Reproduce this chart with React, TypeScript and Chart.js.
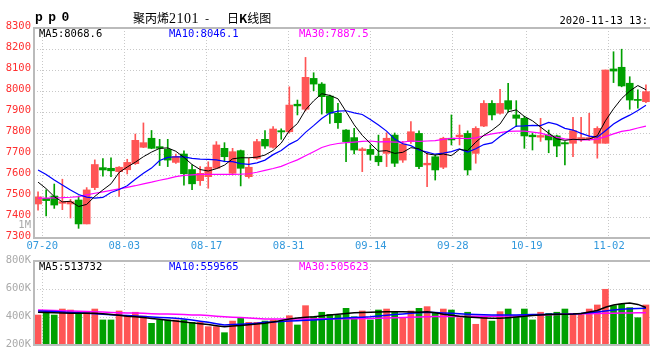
import React, { useEffect, useRef } from 'react';
import { Chart, registerables } from 'chart.js';

Chart.register(...registerables);

// ---- data ----
const dates = [
  '07-17', '07-20', '07-21', '07-22', '07-23', '07-24', '07-27', '07-28', '07-29', '07-30', '07-31',
  '08-03', '08-04', '08-05', '08-06', '08-07', '08-10', '08-11', '08-12', '08-13', '08-14',
  '08-17', '08-18', '08-19', '08-20', '08-21', '08-24', '08-25', '08-26', '08-27', '08-28',
  '08-31', '09-01', '09-02', '09-03', '09-04', '09-07', '09-08', '09-09', '09-10', '09-11',
  '09-14', '09-15', '09-16', '09-17', '09-18', '09-21', '09-22', '09-23', '09-24', '09-25',
  '09-28', '09-29', '09-30', '10-09', '10-12', '10-13', '10-14', '10-15', '10-16',
  '10-19', '10-20', '10-21', '10-22', '10-23', '10-26', '10-27', '10-28', '10-29', '10-30',
  '11-02', '11-03', '11-04', '11-05', '11-06', '11-09',
];

const xTickLabels = ['07-20', '08-03', '08-17', '08-31', '09-14', '09-28', '10-19', '11-02'];
const priceTicks = [7300, 7400, 7500, 7600, 7700, 7800, 7900, 8000, 8100, 8200, 8300];
const volTicks = [200000, 400000, 600000, 800000];
const volTickLabels = ['200K', '400K', '600K', '800K'];

const open = [
  7462, 7489, 7500, 7465, 7462, 7481, 7367, 7540, 7635, 7632,
  7616, 7625, 7654, 7732, 7775, 7735, 7722, 7660, 7700, 7626,
  7573, 7592, 7632, 7727, 7608, 7716, 7592, 7679, 7770, 7732,
  7811, 7806, 7937, 7913, 8060, 8033, 7976, 7894, 7814, 7778,
  7716, 7722, 7690, 7703, 7790, 7671, 7759, 7798, 7648, 7687,
  7637, 7775, 7782, 7798, 7703, 7833, 7941, 7894, 7954, 7886,
  7870, 7790, 7780, 7790, 7786, 7754, 7751, 7770, 7772, 7751,
  7751, 8105, 8113, 8037, 7960, 7949,
];
const high = [
  7520, 7529, 7557, 7580, 7484, 7500, 7540, 7672, 7678, 7682,
  7640, 7675, 7795, 7848, 7812, 7770, 7770, 7700, 7715, 7648,
  7640, 7663, 7759, 7754, 7727, 7719, 7680, 7770, 7811, 7830,
  7820, 8020, 7957, 8160, 8087, 8040, 7980, 7941, 7816, 7822,
  7730, 7743, 7790, 7801, 7800, 7760, 7854, 7810, 7703, 7695,
  7780, 7886, 7838, 7810, 7830, 7954, 7954, 8008, 8037, 7954,
  7880, 7800, 7870, 7814, 7790, 7759, 7875, 7875, 7894, 7830,
  8100, 8187, 8199, 8068, 8005, 8029,
];
const low = [
  7433, 7405, 7441, 7435, 7395, 7346, 7367, 7530, 7595, 7592,
  7498, 7605, 7650, 7730, 7725, 7645, 7640, 7655, 7552, 7530,
  7550, 7537, 7630, 7663, 7600, 7548, 7585, 7675, 7727, 7728,
  7770, 7800, 7886, 7905, 8001, 7890, 7846, 7822, 7663, 7700,
  7616, 7671, 7645, 7640, 7640, 7660, 7750, 7630, 7544, 7576,
  7630, 7743, 7743, 7600, 7656, 7830, 7862, 7890, 7900, 7830,
  7727, 7719, 7760, 7706, 7687, 7648, 7687, 7760, 7765, 7680,
  7751, 8040, 8020, 7913, 7918, 7945,
];
const close = [
  7496, 7478, 7457, 7473, 7473, 7367, 7529, 7650, 7624, 7620,
  7637, 7660, 7765, 7754, 7727, 7727, 7671, 7688, 7606, 7558,
  7608, 7637, 7743, 7687, 7711, 7632, 7637, 7759, 7738, 7819,
  7805, 7933, 7929, 8065, 8033, 7973, 7894, 7849, 7759, 7719,
  7724, 7698, 7663, 7775, 7656, 7748, 7806, 7640, 7656, 7624,
  7775, 7767, 7790, 7624, 7822, 7941, 7886, 7941, 7913, 7870,
  7786, 7782, 7788, 7767, 7738, 7748, 7811, 7778, 7778, 7822,
  8100, 8095, 8024, 7957, 7955, 7997,
];

const ma5 = [
  7566, 7535, 7497, 7472, 7475, 7450, 7460, 7498, 7529, 7558,
  7612, 7638, 7661, 7687, 7709, 7727, 7729, 7713, 7684, 7650,
  7626, 7619, 7630, 7647, 7677, 7682, 7682, 7685, 7695, 7717,
  7752, 7811, 7845, 7910, 7953, 7987, 7979, 7963, 7902, 7839,
  7789, 7750, 7713, 7716, 7703, 7708, 7730, 7725, 7701, 7695,
  7700, 7692, 7722, 7716, 7756, 7789, 7813, 7843, 7901, 7910,
  7879, 7858, 7828, 7799, 7772, 7765, 7770, 7768, 7771, 7787,
  7858, 7915, 7964, 8000, 8026, 8006,
];
const ma10 = [
  7624, 7602, 7576, 7552, 7529, 7507, 7495, 7490, 7493, 7517,
  7531, 7549, 7580, 7608, 7633, 7669, 7684, 7687, 7686, 7679,
  7676, 7674, 7672, 7665, 7664, 7654, 7651, 7658, 7671, 7697,
  7717, 7746, 7765, 7803, 7835, 7869, 7895, 7904, 7906, 7896,
  7888, 7864, 7838, 7809, 7771, 7749, 7740, 7719, 7709, 7699,
  7704, 7711, 7724, 7709, 7725, 7745, 7753, 7783, 7808, 7833,
  7834, 7836, 7835, 7850, 7841, 7822, 7814, 7798, 7785, 7780,
  7811, 7843, 7866, 7885, 7907, 7932,
];
const ma30 = [
  7490, 7490, 7491, 7492, 7494, 7497, 7505, 7513, 7520, 7527,
  7534, 7541, 7549, 7558, 7566, 7575, 7583, 7592, 7598, 7601,
  7603, 7603, 7603, 7603, 7603, 7604, 7606, 7613, 7622, 7631,
  7641, 7657, 7672, 7692, 7711, 7731, 7743, 7750, 7754, 7757,
  7760, 7762, 7758, 7759, 7757, 7757, 7762, 7760, 7762, 7764,
  7770, 7774, 7775, 7773, 7777, 7787, 7796, 7802, 7808, 7809,
  7809, 7804, 7799, 7789, 7779, 7772, 7769, 7767, 7767, 7771,
  7783, 7796, 7808, 7814, 7824, 7833,
];

const volume = [
  414000, 434000, 414000, 457000, 450000, 426000, 434000, 457000, 379000, 379000,
  443000, 407000, 434000, 407000, 355000, 379000, 379000, 379000, 379000, 362000,
  362000, 331000, 331000, 288000, 371000, 391000, 362000, 362000, 371000, 379000,
  362000, 409000, 343000, 481000, 402000, 434000, 419000, 414000, 462000, 402000,
  443000, 379000, 450000, 457000, 438000, 395000, 443000, 462000, 474000, 431000,
  457000, 450000, 395000, 434000, 348000, 402000, 371000, 438000, 457000, 402000,
  457000, 379000, 434000, 426000, 434000, 457000, 426000, 419000, 457000, 486000,
  598000, 481000, 491000, 467000, 395000, 486000,
];
const volMa5 = [
  434000, 432000, 430000, 428000, 427000, 426000, 426000, 426000, 424000, 418000,
  412000, 406000, 402000, 396000, 390000, 384000, 377000, 371000, 365000, 358000,
  352000, 346000, 338000, 331000, 336000, 340000, 345000, 350000, 355000, 365000,
  375000, 385000, 393000, 398000, 402000, 408000, 414000, 420000, 425000, 430000,
  432000, 434000, 436000, 437000, 438000, 437000, 436000, 434000, 438000, 430000,
  420000, 412000, 405000, 400000, 396000, 393000, 391000, 391000, 395000, 400000,
  405000, 410000, 414000, 417000, 419000, 419000, 421000, 425000, 436000, 446000,
  470000, 485000, 495000, 500000, 490000, 468000,
];
const volMa10 = [
  443000, 441000, 439000, 436000, 433000, 430000, 427000, 424000, 419000, 416000,
  413000, 410000, 407000, 403000, 400000, 397000, 394000, 391000, 385000, 378000,
  370000, 362000, 352000, 343000, 346000, 349000, 352000, 356000, 362000, 365000,
  368000, 371000, 374000, 376000, 379000, 383000, 386000, 390000, 393000, 396000,
  399000, 402000, 407000, 412000, 418000, 422000, 426000, 430000, 434000, 432000,
  429000, 426000, 423000, 420000, 418000, 416000, 415000, 414000, 414000, 415000,
  416000, 417000, 418000, 419000, 419000, 419000, 421000, 425000, 430000, 436000,
  443000, 450000, 455000, 459000, 461000, 462000,
];
const volMa30 = [
  450000, 448000, 446000, 444000, 443000, 441000, 439000, 437000, 435000, 433000,
  431000, 429000, 428000, 426000, 424000, 422000, 421000, 419000, 417000, 415000,
  414000, 410000, 406000, 402000, 399000, 396000, 392000, 389000, 386000, 386000,
  386000, 386000, 386000, 386000, 386000, 387000, 387000, 387000, 388000, 388000,
  389000, 390000, 391000, 393000, 395000, 397000, 399000, 400000, 402000, 403000,
  403000, 404000, 404000, 405000, 405000, 405000, 406000, 406000, 407000, 408000,
  410000, 412000, 414000, 416000, 418000, 420000, 422000, 423000, 424000, 425000,
  426000, 427000, 428000, 429000, 430000, 431000,
];

// ---- styles ----
const UP = '#ff5555';
const DOWN = '#00a000';
const MONO = '"DejaVu Sans Mono", monospace';
const GRID = '#c8c8c8';

const plotBorder = {
  id: 'plotBorder',
  afterDatasetsDraw(chart: any) {
    const { ctx, chartArea: a } = chart;
    ctx.save();
    ctx.strokeStyle = '#bbbbbb';
    ctx.lineWidth = 2;
    ctx.beginPath();
    ctx.moveTo(a.right, a.top);
    ctx.lineTo(a.left, a.top);
    ctx.lineTo(a.left, a.bottom);
    ctx.lineTo(a.right, a.bottom);
    ctx.stroke();
    ctx.restore();
  },
};

function lineDs(label: string, data: number[], color: string, width: number) {
  return {
    type: 'line' as const,
    label,
    data,
    borderColor: color,
    borderWidth: width,
    pointRadius: 0,
    tension: 0,
    fill: false,
    order: 0,
  };
}

function dateAxis(showLabels: boolean, height: number) {
  return {
    type: 'category' as const,
    position: 'bottom' as const,
    offset: false,
    grid: { offset: false, color: GRID, drawTicks: false },
    border: { display: false, dash: [1, 2] },
    ticks: {
      display: showLabels,
      autoSkip: false,
      maxRotation: 0,
      minRotation: 0,
      padding: 2,
      color: '#3399dd',
      font: { family: MONO, size: 10.5 },
    },
    afterBuildTicks: (s: any) => {
      s.ticks = s.ticks.filter((t: any) => xTickLabels.includes(dates[t.value]));
    },
    afterFit: (s: any) => {
      s.height = height;
    },
  };
}

export default function App() {
  const priceRef = useRef<HTMLCanvasElement>(null);
  const volRef = useRef<HTMLCanvasElement>(null);

  useEffect(() => {
    const colors = close.map((c, i) => (c >= open[i] ? UP : DOWN));

    const priceChart = new Chart(priceRef.current as HTMLCanvasElement, {
      type: 'bar',
      data: {
        labels: dates,
        datasets: [
          lineDs('MA5', ma5, '#000000', 1),
          lineDs('MA10', ma10, '#0000ff', 1.2),
          lineDs('MA30', ma30, '#ff00ff', 1.2),
          {
            type: 'bar',
            label: 'body',
            data: open.map((o, i) => [o, close[i]]) as any,
            backgroundColor: colors,
            barThickness: 7,
            grouped: false,
            minBarLength: 1,
            order: 2,
          },
          {
            type: 'bar',
            label: 'wick',
            data: low.map((l, i) => [l, high[i]]) as any,
            backgroundColor: colors,
            barThickness: 1,
            grouped: false,
            order: 3,
          },
        ],
      } as any,
      options: {
        responsive: false,
        animation: false,
        layout: { padding: { top: 28, right: 10, left: 0, bottom: 0 } },
        plugins: { legend: { display: false }, tooltip: { enabled: false } },
        scales: {
          x: { type: 'category', display: false, offset: true },
          x2: dateAxis(true, 20),
          y: {
            position: 'left',
            min: 7300,
            max: 8300,
            grid: { color: GRID, drawTicks: false },
            border: { display: false, dash: [1, 2] },
            ticks: {
              color: '#ff3030',
              padding: 3,
              labelOffset: -2,
              font: { family: MONO, size: 10.5 },
              callback: (v: any) => String(v),
            },
            afterBuildTicks: (s: any) => {
              s.ticks = priceTicks.map((v) => ({ value: v }));
            },
            afterFit: (s: any) => {
              s.width = 34;
            },
          },
        },
      } as any,
      plugins: [plotBorder],
    });

    const volChart = new Chart(volRef.current as HTMLCanvasElement, {
      type: 'bar',
      data: {
        labels: dates,
        datasets: [
          lineDs('VMA5', volMa5, '#000000', 1.5),
          lineDs('VMA10', volMa10, '#0000ff', 1.5),
          lineDs('VMA30', volMa30, '#ff00ff', 1.5),
          {
            type: 'bar',
            label: 'volume',
            data: volume,
            backgroundColor: colors,
            barThickness: 6,
            grouped: false,
            order: 2,
          },
        ],
      } as any,
      options: {
        responsive: false,
        animation: false,
        layout: { padding: { top: 11, right: 10, left: 0, bottom: 13 } },
        plugins: { legend: { display: false }, tooltip: { enabled: false } },
        scales: {
          x: { type: 'category', display: false, offset: true },
          x2: dateAxis(false, 0),
          y: {
            position: 'left',
            min: 200000,
            max: 800000,
            grid: { color: GRID, drawTicks: false },
            border: { display: false, dash: [1, 2] },
            ticks: {
              color: '#aaaaaa',
              padding: 3,
              labelOffset: -1,
              font: { family: MONO, size: 10.5 },
              callback: (v: any) => volTickLabels[volTicks.indexOf(v)] ?? '',
            },
            afterBuildTicks: (s: any) => {
              s.ticks = volTicks.map((v) => ({ value: v }));
            },
            afterFit: (s: any) => {
              s.width = 34;
            },
          },
        },
      } as any,
      plugins: [plotBorder],
    });

    return () => {
      priceChart.destroy();
      volChart.destroy();
    };
  }, []);

  const abs = (extra: React.CSSProperties): React.CSSProperties => ({
    position: 'absolute',
    whiteSpace: 'pre',
    margin: 0,
    ...extra,
  });
  const monoText: React.CSSProperties = { fontFamily: MONO, fontSize: '10.5px', lineHeight: '12px' };
  const titleText: React.CSSProperties = {
    fontFamily: '"Noto Sans CJK SC", sans-serif',
    fontSize: '12px',
    lineHeight: '14px',
    top: 11,
    color: '#000',
  };

  return (
    <div
      style={{
        position: 'absolute',
        left: 0,
        top: 0,
        width: 660,
        height: 351,
        overflow: 'hidden',
        background: '#ffffff',
      }}
    >
      <canvas ref={priceRef} width={660} height={258} style={{ position: 'absolute', left: 0, top: 0 }} />
      <canvas ref={volRef} width={660} height={108} style={{ position: 'absolute', left: 0, top: 250 }} />

      <div
        style={abs({
          left: 35,
          top: 11,
          fontFamily: '"Liberation Mono", monospace',
          fontWeight: 'bold',
          fontSize: '13px',
          letterSpacing: '-1.2px',
          lineHeight: '14px',
          color: '#000',
        })}
      >
        p p 0
      </div>
      <div style={abs({ ...titleText, left: 133 })}>
        聚丙烯<span style={{ fontFamily: '"Liberation Serif", serif', fontSize: '14px', letterSpacing: '0.5px' }}>2101</span>
      </div>
      <div style={abs({ ...titleText, left: 205 })}>-</div>
      <div style={abs({ ...titleText, left: 227 })}>
        日<b>K</b>线图
      </div>
      <div style={abs({ ...monoText, right: 12, top: 14, color: '#000' })}>2020-11-13 13:</div>

      <div style={abs({ ...monoText, left: 39, top: 27, color: '#000000' })}>MA5:8068.6</div>
      <div style={abs({ ...monoText, left: 169, top: 27, color: '#0000ff' })}>MA10:8046.1</div>
      <div style={abs({ ...monoText, left: 299, top: 27, color: '#ff00ff' })}>MA30:7887.5</div>

      <div style={abs({ ...monoText, left: 0, width: 31, textAlign: 'right', top: 218, color: '#aaaaaa' })}>1M</div>

      <div style={abs({ ...monoText, left: 39, top: 260, color: '#000000' })}>MA5:513732</div>
      <div style={abs({ ...monoText, left: 169, top: 260, color: '#0000ff' })}>MA10:559565</div>
      <div style={abs({ ...monoText, left: 299, top: 260, color: '#ff00ff' })}>MA30:505623</div>
    </div>
  );
}
